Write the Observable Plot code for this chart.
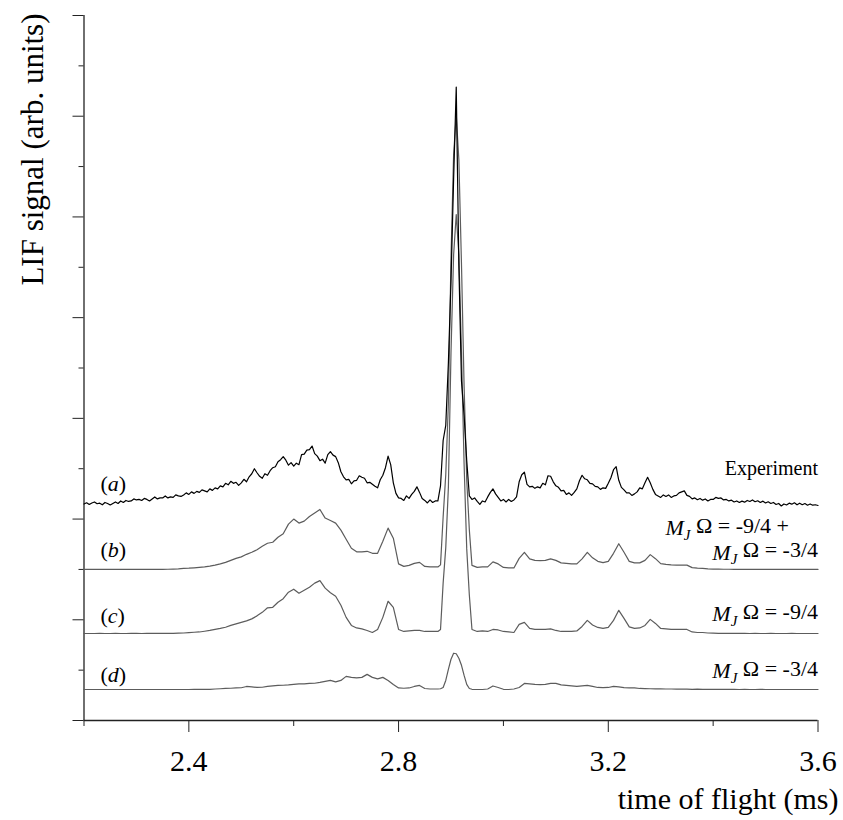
<!DOCTYPE html>
<html><head><meta charset="utf-8">
<script src="https://cdn.jsdelivr.net/npm/d3@7"></script>
<script src="https://cdn.jsdelivr.net/npm/@observablehq/plot@0.6"></script>
<style>body{margin:0;background:#fff}</style>
</head><body><div id="chart"></div>
<script>
// time of flight (ms) sample grid for the experiment
const tExp = d3.range(281).map(i => +(2.2 + i * 0.005).toFixed(3));
// (a) experimental LIF signal above its baseline (arb. units)
const expSignal = [
0.0,0.12,-0.05,0.1,0.2,0.02,0.08,-0.08,0.15,0.05,
-0.1,0.05,0.2,0.05,0.3,0.15,0.35,0.25,0.3,0.5,
0.4,0.45,0.35,0.55,0.45,0.3,0.5,0.7,0.5,0.6,
0.6,0.8,0.6,0.7,0.65,0.9,0.8,0.75,0.9,1.1,
0.95,1.2,1.05,1.25,1.15,1.4,1.3,1.2,1.5,1.35,
1.6,1.5,1.8,1.7,2.05,1.9,2.25,2.05,2.15,1.85,
2.1,2.45,2.2,2.7,3.0,3.5,3.1,2.75,2.55,3.0,
2.85,3.3,3.6,3.7,4.2,4.4,4.7,4.35,3.85,4.1,
3.75,4.05,3.9,4.9,4.95,5.35,5.4,5.75,5.0,4.75,
4.3,4.45,4.05,4.9,5.2,4.85,4.7,4.1,3.2,2.7,
2.4,2.45,2.0,2.3,2.35,2.8,2.65,2.55,2.1,2.15,
1.95,1.75,1.6,2.4,2.85,3.6,4.75,3.9,2.1,1.05,
0.6,0.55,0.35,0.8,0.55,0.95,1.25,1.7,1.15,0.55,
0.35,0.1,0.4,0.15,0.3,0.3,1.8,6.3,7.8,14.0,
22.1,32.3,41.4,23.7,12.2,8.8,4.3,0.8,0.45,0.6,
0.25,-0.05,0.3,0.2,0.7,1.15,1.5,1.0,0.65,0.3,
0.45,0.2,0.45,0.25,0.4,0.7,2.2,2.9,3.15,1.95,
1.7,1.75,1.55,1.7,1.6,2.05,1.9,2.8,2.75,2.2,
1.8,1.65,1.3,1.35,0.95,1.1,0.85,1.15,1.5,2.3,
2.85,2.5,2.4,2.05,2.0,1.75,1.7,1.45,1.6,1.55,
2.05,2.6,3.4,3.7,2.35,1.65,1.4,1.1,1.1,0.85,
1.0,1.2,1.6,1.5,2.1,2.65,2.1,1.45,0.95,0.8,
0.65,0.9,0.75,0.9,0.65,0.8,0.85,1.1,1.2,1.3,
0.85,0.75,0.5,0.6,0.42,0.55,0.38,0.5,0.3,0.45,
0.45,0.65,0.55,0.6,0.4,0.45,0.3,0.38,0.2,0.3,
0.15,0.28,0.18,0.35,0.25,0.4,0.22,0.32,0.15,0.28,
0.1,0.22,0.05,0.15,-0.05,0.05,-0.2,0.0,-0.1,0.08,
-0.02,0.12,-0.08,0.08,-0.08,0.04,-0.12,0.0,-0.12,-0.08,
-0.15
];
// time grid for the simulations (finer around the main peak)
const tSim = [
  ...d3.range(220, 287).map(v => v / 100),
  ...d3.range(2870, 2945, 5).map(v => v / 1000),
  ...d3.range(295, 361).map(v => v / 100)
];
// (b) simulation MJΩ = -9/4 + MJΩ = -3/4
const simB = [
0,0,0,0,0,0,0,0,0,0,0,0,0,0,0,0,
0.02,0.04,0.06,0.1,0.12,0.16,0.2,0.25,0.32,0.42,0.55,0.7,0.9,1.1,1.25,1.5,1.7,1.95,2.3,2.6,2.7,3.2,3.55,4.5,5.0,4.6,4.8,5.25,5.6,5.95,5.1,4.85,4.6,3.9,3.0,2.1,1.75,1.75,1.8,1.6,1.6,2.8,4.1,3.1,0.55,0.3,0.4,0.6,0.7,0.3,0.25,
0.25,0.25,0.45,5.2,9.4,16.5,30.9,41.2,45.1,40.7,30.3,18.2,8.9,3.9,0.4,
0.2,0.25,0.25,0.75,0.55,0.2,0.15,0.15,1.1,1.7,1.05,0.9,0.88,0.9,1.05,0.9,0.65,0.6,0.55,0.55,1.05,1.7,1.15,0.8,0.68,0.8,1.6,2.55,1.7,0.8,0.65,0.65,0.9,1.47,1.07,0.57,0.5,0.45,
0.43,0.43,0.43,0.18,0.12,0.1,0.05,0.03,0.03,0.02,0.02,0.01,0.01,0.01,0,0.01,0,0,0.01,0,0,0,0,0,0,0,0,0
];
// (c) simulation MJΩ = -9/4
const simC = [
0,0,0,0.01,0,0,0.01,0,0,0.01,0.01,0,0.01,0.01,0.01,0.02,0.02,
0.02,0.03,0.05,0.08,0.12,0.15,0.22,0.3,0.4,0.5,0.62,0.8,0.95,1.1,1.25,1.45,1.75,2.1,2.55,2.6,3.1,3.45,4.1,4.4,4.0,4.3,4.6,5.0,5.25,4.5,4.05,3.7,2.8,1.6,0.8,0.55,0.45,0.3,0.1,0.4,1.6,3.2,2.6,0.4,0.2,0.25,0.3,0.3,0.2,0.2,
0.2,0.2,0.4,5.0,8.5,14.5,27.9,37.6,41.6,37.6,27.9,16.8,8.4,3.8,0.4,
0.2,0.25,0.2,0.4,0.35,0.2,0.15,0.1,0.9,1.1,0.5,0.4,0.4,0.4,0.45,0.3,0.2,0.2,0.2,0.25,0.7,1.3,0.85,0.6,0.5,0.6,1.3,2.3,1.5,0.65,0.5,0.55,0.8,1.4,1.0,0.5,0.45,0.4,0.4,0.4,0.4,0.15,0.1,0.1,0.05,0.03,
0.02,0.02,0.01,0.02,0.01,0.01,0,0.01,0,0,0.01,0,0,0,0.01,0,0,0,0,0
];
// (d) simulation MJΩ = -3/4
const simD = [
0,0,0,0,0,0,0,0,0,0,0,0,0,0,0,0,0,0,0,0,0,0.01,0.01,0.01,
0.02,0.05,0.07,0.1,0.12,0.15,0.17,0.3,0.25,0.2,0.22,0.3,0.35,0.4,0.42,0.45,0.5,0.55,0.55,0.6,0.62,0.7,0.8,0.9,0.75,0.9,1.3,1.2,1.15,1.2,1.5,1.2,1.05,1.2,0.9,0.5,0.15,0.12,0.15,0.3,0.4,0.1,0.05,
0.05,0.05,0.07,0.2,0.9,2.0,3.0,3.6,3.55,3.1,2.4,1.4,0.5,0.1,0.02,
0,0,0.05,0.35,0.2,0.02,0,0.05,0.2,0.6,0.55,0.5,0.48,0.5,0.6,0.6,0.45,0.4,0.35,0.3,0.35,0.4,0.3,0.2,0.18,0.2,0.3,0.25,0.18,0.15,0.15,0.1,0.08,0.07,0.07,0.07,0.05,0.05,
0.04,0.03,0.03,0.02,0.03,0.02,0.02,0.01,0.02,0.01,0.01,0.01,0,0.01,0,0,0.01,0,0,0,0,0,0,0,0,0,0,0
];
// vertical offsets of the traces (arb. units)
const offsetA = 21.5, offsetB = 15.0, offsetC = 8.64, offsetD = 3.08;
// axis ticks
const xMajor = [2.4, 2.8, 3.2, 3.6];
const xMinor = [2.2, 2.6, 3.0, 3.4];
const yMajor = [0, 10, 20, 30, 40, 50, 60, 70];
const yMinor = [5, 15, 25, 35, 45, 55, 65];
// labels
const leftLabels = [
  {t: 2.2315, y: 23.5, label: "(a)"},
  {t: 2.2315, y: 16.9, label: "(b)"},
  {t: 2.2315, y: 10.4, label: "(c)"},
  {t: 2.2315, y: 4.5, label: "(d)"}
];
const rightLabels = [
  {t: 3.6, y: 16.68, label: "MJ Ω = -3/4"},
  {t: 3.6, y: 10.53, label: "MJ Ω = -9/4"},
  {t: 3.6, y: 4.87, label: "MJ Ω = -3/4"}
];
const firstLineLabel = [{t: 3.309, y: 19.07, label: "MJ Ω = -9/4 +"}];
const expLabel = [{t: 3.6, y: 24.97, label: "Experiment"}];

const rowsA = tExp.map((t, i) => ({t, y: offsetA + expSignal[i]}));
const rowsB = tSim.map((t, i) => ({t, y: offsetB + simB[i]}));
const rowsC = tSim.map((t, i) => ({t, y: offsetC + simC[i]}));
const rowsD = tSim.map((t, i) => ({t, y: offsetD + simD[i]}));

const gray = "#5c5c5c";
const serif = '"Liberation Serif", "Times New Roman", serif';

const svg = Plot.plot({
  width: 843,
  height: 820,
  marginLeft: 83.5,
  marginRight: 25.5,
  marginTop: 15,
  marginBottom: 100,
  style: {fontFamily: serif, fontSize: "30px", background: "#fff", color: "#000"},
  x: {domain: [2.2, 3.6]},
  y: {domain: [0, 70]},
  marks: [
    Plot.ruleX([2.2], {y1: 0, y2: 70, stroke: "#222", strokeWidth: 1.3}),
    Plot.ruleY([0], {x1: 2.2, x2: 3.6, stroke: "#222", strokeWidth: 1.3}),
    Plot.axisY({ticks: yMajor, tickSize: 11, tickFormat: () => "", label: null, stroke: "#222"}),
    Plot.axisY({ticks: yMinor, tickSize: 5, tickFormat: () => "", label: null, stroke: "#222"}),
    Plot.axisX({ticks: xMajor, tickSize: 12, tickPadding: 17, tickFormat: d3.format(".1f"), label: null, stroke: "#222"}),
    Plot.axisX({ticks: xMinor, tickSize: 6, tickFormat: () => "", label: null, stroke: "#222"}),
    Plot.line(rowsD, {x: "t", y: "y", stroke: gray, strokeWidth: 1.2}),
    Plot.line(rowsC, {x: "t", y: "y", stroke: gray, strokeWidth: 1.2}),
    Plot.line(rowsB, {x: "t", y: "y", stroke: gray, strokeWidth: 1.2}),
    Plot.line(rowsA, {x: "t", y: "y", stroke: "#000", strokeWidth: 1.2}),
    Plot.text(leftLabels, {x: "t", y: "y", text: "label", textAnchor: "start", fontSize: 22, fill: "#000"}),
    Plot.text(rightLabels, {x: "t", y: "y", text: "label", textAnchor: "end", fontSize: 22, fill: "#000"}),
    Plot.text(firstLineLabel, {x: "t", y: "y", text: "label", textAnchor: "start", fontSize: 22, fill: "#000"}),
    Plot.text(expLabel, {x: "t", y: "y", text: "label", textAnchor: "end", fontSize: 20, fill: "#000"}),
    Plot.text(["LIF signal (arb. units)"], {frameAnchor: "top-left", dx: -63, dy: -2, rotate: -90, textAnchor: "end", fontSize: 31, fill: "#000"}),
    Plot.text(["time of flight (ms)"], {frameAnchor: "bottom-right", dx: 20.5, dy: 88, textAnchor: "end", fontSize: 30, fill: "#000"})
  ]
});

// italic letters and subscripts inside the labels
d3.select(svg).selectAll("text").each(function () {
  const el = d3.select(this);
  const s = this.textContent;
  let m;
  if ((m = s.match(/^\((\w)\)$/))) {
    el.text(null);
    el.append("tspan").text("(");
    el.append("tspan").attr("font-style", "italic").text(m[1]);
    el.append("tspan").text(")");
  } else if ((m = s.match(/^MJ(.*)$/))) {
    el.text(null);
    el.append("tspan").attr("font-style", "italic").text("M");
    el.append("tspan").attr("font-style", "italic").attr("font-size", "0.68em").attr("dy", "0.3em").text("J");
    el.append("tspan").attr("dy", "-0.3em").text(m[1]);
  }
});

document.getElementById("chart").appendChild(svg);
</script>
</body></html>
